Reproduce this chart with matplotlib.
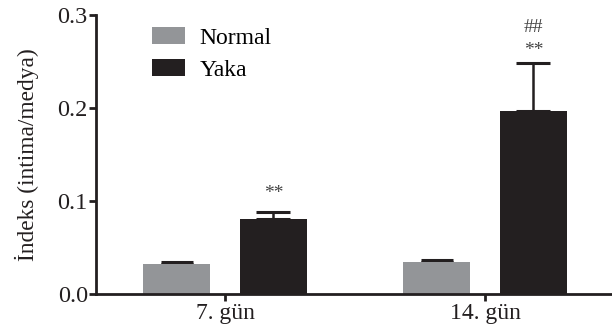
import numpy as np
import matplotlib.pyplot as plt

plt.rcParams["font.family"] = ["Liberation Serif", "DejaVu Serif"]

GROUPS = ["7. gün", "14. gün"]
NORMAL_MEAN = [0.0326, 0.0351]
NORMAL_ERR = [0.0021, 0.0021]
YAKA_MEAN = [0.081, 0.197]
YAKA_ERR = [0.0074, 0.051]
Y_TICKS = [0.0, 0.1, 0.2, 0.3]
# significance marks above the Yaka bars (text, y position)
YAKA_MARKS = [[("**", 0.108)], [("**", 0.262), ("##", 0.286)]]

GREY = "#939598"
BLACK = "#231F20"


def main():
    fig = plt.figure(figsize=(6.12, 3.30), dpi=100)
    ax = fig.add_axes([0.157, 0.108, 0.843, 0.847])

    x = np.arange(len(GROUPS))
    width = 0.258
    offset = 0.186

    ax.bar(x - offset, NORMAL_MEAN, width, color=GREY, label="Normal", zorder=2)
    ax.bar(x + offset, YAKA_MEAN, width, color=BLACK, label="Yaka", zorder=2)

    ax.errorbar(x - offset, NORMAL_MEAN, yerr=[np.zeros(len(x)), NORMAL_ERR],
                fmt="none", ecolor=BLACK, elinewidth=1.8, capsize=11.5, capthick=2.2, zorder=1)
    ax.errorbar(x + offset, YAKA_MEAN, yerr=[np.zeros(len(x)), YAKA_ERR],
                fmt="none", ecolor=BLACK, elinewidth=1.8, capsize=12.5, capthick=2.2, zorder=1)

    for i, marks in enumerate(YAKA_MARKS):
        for text, ypos in marks:
            ax.text(x[i] + offset, ypos, text, ha="center", va="center",
                    fontsize=14, color="#444444")

    ax.set_xlim(-0.496, 1.488)
    ax.set_ylim(0, 0.3)
    ax.set_xticks(x)
    ax.set_xticklabels(GROUPS, fontsize=17)
    ax.set_yticks(Y_TICKS)
    ax.set_yticklabels([f"{t:.1f}" for t in Y_TICKS], fontsize=17.5)
    ax.set_ylabel("İndeks (intima/medya)", fontsize=16.8, color=BLACK, labelpad=13)

    for side in ["top", "right"]:
        ax.spines[side].set_visible(False)
    for side in ["left", "bottom"]:
        ax.spines[side].set_linewidth(2)
        ax.spines[side].set_color(BLACK)
    ax.tick_params(axis="both", direction="out", length=5, width=2,
                   color=BLACK, labelcolor=BLACK, pad=1)

    ax.legend(loc="upper left", bbox_to_anchor=(0.1085, 0.957), frameon=False,
              fontsize=17, handlelength=1.4, handleheight=0.72,
              handletextpad=0.6, labelspacing=0.46, borderaxespad=0, borderpad=0)

    fig.savefig("out.png", dpi=100)


if __name__ == "__main__":
    main()
